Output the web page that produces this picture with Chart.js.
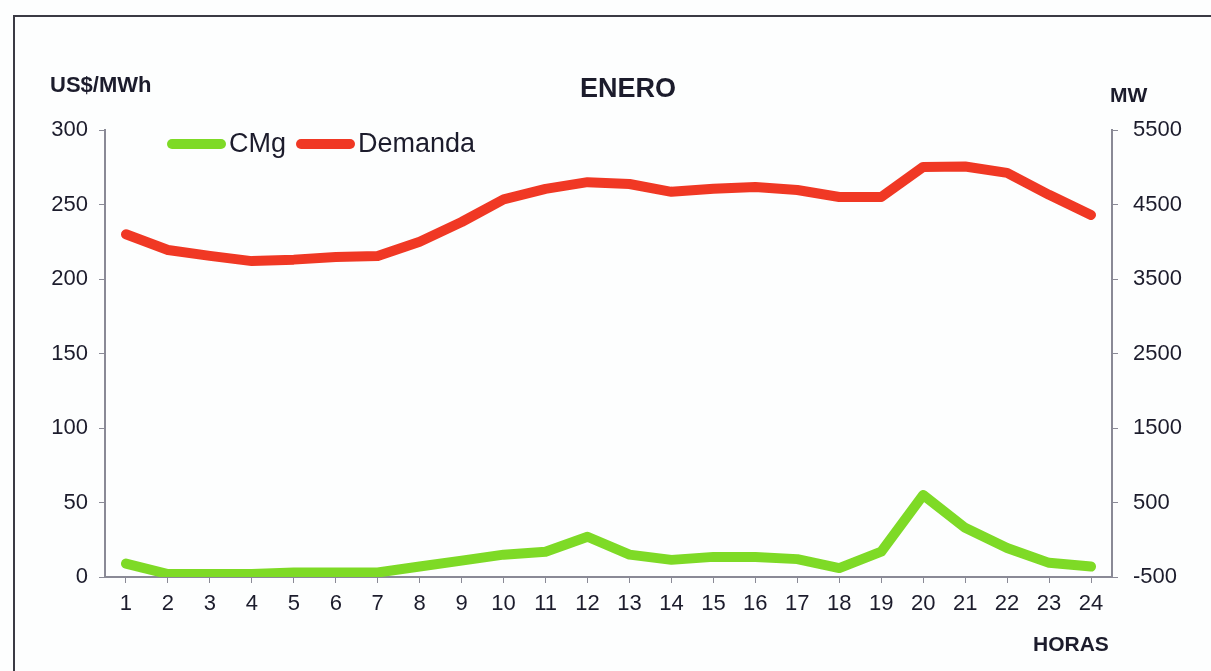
<!DOCTYPE html>
<html>
<head>
<meta charset="utf-8">
<script src="https://cdn.jsdelivr.net/npm/chart.js@4/dist/chart.umd.min.js"></script>
<style>
  html, body { margin: 0; padding: 0; background: #fdfefe; }
  #wrap { width: 1211px; height: 671px; }
</style>
</head>
<body>
<div id="wrap"><canvas id="enero"></canvas></div>
<script>
const horas = ['1','2','3','4','5','6','7','8','9','10','11','12','13','14','15','16','17','18','19','20','21','22','23','24'];
// costo marginal, US$/MWh (eje izquierdo)
const cmg = [9, 2, 2, 2, 3, 3, 3, 7, 11, 15, 17, 27, 15, 11.5, 13.5, 13.5, 12, 6, 17, 55, 33, 19.5, 9.5, 7];
// demanda, MW (eje derecho)
const demanda = [4100, 3890, 3810, 3740, 3760, 3795, 3810, 4000, 4265, 4570, 4710, 4800, 4775, 4670, 4710, 4735, 4695, 4600, 4600, 5005, 5010, 4925, 4630, 4360];
const ticksUS = [0, 50, 100, 150, 200, 250, 300];
const ticksMW = [-500, 500, 1500, 2500, 3500, 4500, 5500];

const verde = 'rgb(126, 218, 38)';
const rojo = 'rgb(240, 56, 36)';
const ejeColor = '#8a8a96';
const textoColor = '#1c1c2c';
const fuente = '"Liberation Sans", Arial, sans-serif';

const ctx = document.getElementById('enero');

// marco, titulos y leyenda
const decoracion = {
    id: 'decoracion',
    beforeDraw(chart) {
        const c = chart.ctx;
        c.save();
        c.fillStyle = '#fdfefe';
        c.fillRect(0, 0, chart.width, chart.height);
        c.strokeStyle = '#3a3a44';
        c.lineWidth = 2;
        c.strokeRect(14, 16, chart.width + 20, chart.height + 20);
        c.restore();
    },
    afterDraw(chart) {
        const c = chart.ctx;
        c.save();
        c.fillStyle = textoColor;
        c.textBaseline = 'middle';
        c.textAlign = 'left';
        c.font = 'bold 22px ' + fuente;
        c.fillText('US$/MWh', 50, 86);
        c.font = 'bold 21px ' + fuente;
        c.fillText('MW', 1110, 96);
        c.fillText('HORAS', 1033, 645);
        c.font = 'bold 27px ' + fuente;
        c.textAlign = 'center';
        c.fillText('ENERO', 628, 90);

        // leyenda
        let x = 167;
        const y = 144;
        c.font = '27px ' + fuente;
        c.textAlign = 'left';
        chart.data.datasets.forEach(ds => {
            c.strokeStyle = ds.borderColor;
            c.lineWidth = 10;
            c.lineCap = 'round';
            c.beginPath();
            c.moveTo(x + 5, y);
            c.lineTo(x + 54, y);
            c.stroke();
            c.fillStyle = textoColor;
            c.fillText(ds.label, x + 62, y + 1);
            x += 62 + c.measureText(ds.label).width + 10;
        });
        c.restore();
    }
};

new Chart(ctx, {
    type: 'line',
    data: {
        labels: horas,
        datasets: [{
            label: 'CMg',
            data: cmg,
            yAxisID: 'y',
            borderColor: verde,
            backgroundColor: verde,
            borderWidth: 10,
            pointRadius: 0,
            borderJoinStyle: 'round',
            borderCapStyle: 'round',
            fill: false,
        }, {
            label: 'Demanda',
            data: demanda,
            yAxisID: 'y1',
            borderColor: rojo,
            backgroundColor: rojo,
            borderWidth: 10,
            pointRadius: 0,
            borderJoinStyle: 'round',
            borderCapStyle: 'round',
            fill: false,
        }],
    },
    options: {
        responsive: true,
        maintainAspectRatio: false,
        animation: false,
        layout: {
            padding: { top: 130, left: 0, right: 0, bottom: 0 }
        },
        plugins: {
            legend: { display: false },
            title: { display: false },
            tooltip: { enabled: false }
        },
        scales: {
            x: {
                offset: true,
                afterFit: s => { s.height = 94; },
                grid: { display: true, drawOnChartArea: false, drawTicks: true, tickLength: 6, color: ejeColor, offset: false },
                border: { display: true, color: ejeColor, width: 2 },
                ticks: { color: textoColor, font: { family: fuente, size: 22 }, padding: 8, maxRotation: 0, autoSkip: false }
            },
            y: {
                position: 'left',
                min: 0,
                max: 300,
                afterFit: s => { s.width = 105; },
                afterBuildTicks: s => { s.ticks = ticksUS.map(v => ({ value: v })); },
                grid: { display: true, drawOnChartArea: false, drawTicks: true, tickLength: 6, color: ejeColor },
                border: { display: true, color: ejeColor, width: 2 },
                ticks: { color: textoColor, font: { family: fuente, size: 22 }, padding: 11, callback: v => String(v) }
            },
            y1: {
                position: 'right',
                min: -500,
                max: 5500,
                afterFit: s => { s.width = 99; },
                afterBuildTicks: s => { s.ticks = ticksMW.map(v => ({ value: v })); },
                grid: { display: true, drawOnChartArea: false, drawTicks: true, tickLength: 6, color: ejeColor },
                border: { display: true, color: ejeColor, width: 2 },
                ticks: { color: textoColor, font: { family: fuente, size: 22 }, padding: 15, callback: v => String(v) }
            }
        }
    },
    plugins: [decoracion]
});
</script>
</body>
</html>
